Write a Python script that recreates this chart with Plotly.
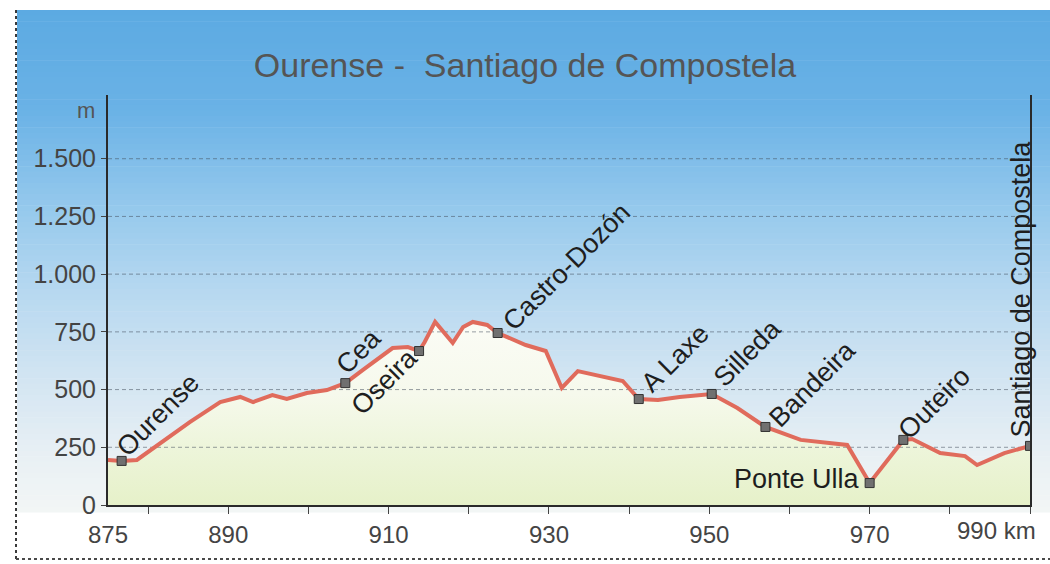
import plotly.graph_objects as go

# ---------------- data ----------------
km = [875.0, 876.7, 878.6, 881.5, 885.2, 889.0, 891.5, 893.1, 895.5, 897.3, 899.8, 902.3,
      904.6, 906.8, 910.5, 912.4, 913.8, 914.5, 915.8, 918.0, 919.3, 920.5, 922.3, 923.6,
      927.1, 929.6, 931.6, 933.6, 936.5, 939.2, 941.2, 943.6, 946.3, 950.3, 953.5, 957.0,
      961.4, 967.2, 970.0, 974.2, 975.3, 978.8, 981.9, 983.4, 986.8, 990.0]
elev = [195, 191, 195, 268, 359, 446, 468, 446, 476, 459, 485, 498,
        528, 585, 680, 684, 667, 706, 793, 702, 771, 793, 780, 745,
        693, 667, 507, 580, 559, 537, 459, 455, 468, 481, 420, 338,
        282, 260, 95, 282, 286, 225, 212, 173, 225, 256]

stations = ["Ourense", "Cea", "Oseira", "Castro-Dozón", "A Laxe", "Silleda",
            "Bandeira", "Ponte Ulla", "Outeiro", "Santiago de Compostela"]
station_km = [876.7, 904.6, 913.8, 923.6, 941.2, 950.3, 957.0, 970.0, 974.2, 990.0]
station_elev = [191, 528, 667, 745, 459, 481, 338, 95, 282, 256]

y_ticks = [0, 250, 500, 750, 1000, 1250, 1500]
y_ticktext = ["0", "250", "500", "750", "1.000", "1.250", "1.500"]
x_ticks = [875, 890, 910, 930, 950, 970]
x_ticktext = ["875", "890", "910", "930", "950", "970"]
x_last_label = "990 km"
x_minor = [880, 890, 900, 910, 920, 930, 940, 950, 960, 970, 980, 990]
title_text = "Ourense -  Santiago de Compostela"

# ---------------- layout geometry ----------------
W, H = 1050, 564
ML, MR, MT, MB = 108, 20, 95, 59
PW, PH = W - ML - MR, H - MT - MB
X_RANGE = [875, 990]
Y_RANGE = [0, 1776]
FONT = "Liberation Sans, Arial, sans-serif"


def px_x(p):
    return (p - ML) / PW


def px_y(p):
    return (H - MB - p) / PH


def lerp_color(stops, t):
    for (t0, c0), (t1, c1) in zip(stops[:-1], stops[1:]):
        if t0 <= t <= t1:
            f = (t - t0) / (t1 - t0) if t1 > t0 else 0
            return "rgb(%d,%d,%d)" % tuple(round(a + (b - a) * f) for a, b in zip(c0, c1))
    return "rgb(%d,%d,%d)" % stops[-1][1]


sky_stops = [(10, (92, 170, 226)), (110, (106, 178, 230)), (200, (146, 199, 236)),
             (290, (182, 216, 240)), (380, (211, 229, 242)), (450, (231, 239, 244)),
             (512, (243, 246, 245))]

shapes = []
top, bottom, n = 10, 512, 90
step = (bottom - top) / n
for i in range(n):
    y0 = top + i * step
    shapes.append(dict(type="rect", xref="paper", yref="paper", layer="below",
                       x0=px_x(17), x1=px_x(1050), y0=px_y(y0 + step + 0.6), y1=px_y(y0),
                       fillcolor=lerp_color(sky_stops, y0 + step / 2), line=dict(width=0)))
# scan border lines
shapes.append(dict(type="line", xref="paper", yref="paper", layer="above",
                   x0=px_x(16), x1=px_x(16), y0=px_y(10), y1=px_y(562),
                   line=dict(color="#3a3a3a", width=2, dash="dot")))
shapes.append(dict(type="line", xref="paper", yref="paper", layer="above",
                   x0=px_x(16), x1=px_x(1050), y0=px_y(559), y1=px_y(559),
                   line=dict(color="#4a4a4a", width=2, dash="dot")))

fig = go.Figure()

# filled area under profile
fig.add_trace(go.Scatter(
    x=km, y=elev, mode="lines", line=dict(width=0), fill="tozeroy",
    fillgradient=dict(type="vertical", start=0, stop=800,
                      colorscale=[[0, "#e6f1c9"], [0.3, "#edf5da"], [0.6, "#f6f9ec"], [1, "#fbfcf6"]]),
    hoverinfo="skip", showlegend=False))

# dashed gridlines (drawn over the fill, under the profile)
for v in y_ticks[1:]:
    fig.add_trace(go.Scatter(
        x=X_RANGE, y=[v, v], mode="lines",
        line=dict(color="rgba(70,80,95,0.55)", width=1, dash="4px,3px"),
        hoverinfo="skip", showlegend=False))

# profile line
fig.add_trace(go.Scatter(
    x=km, y=elev, mode="lines", line=dict(color="#e06b5c", width=4),
    hoverinfo="skip", showlegend=False))

# station markers
fig.add_trace(go.Scatter(
    x=station_km, y=station_elev, mode="markers",
    marker=dict(symbol="square", size=9, color="#707070", line=dict(color="#333", width=1)),
    hoverinfo="skip", showlegend=False))

label_style = {
    "Ourense": dict(textangle=-45, xanchor="left", yanchor="bottom", xshift=-14, yshift=-4),
    "Cea": dict(textangle=-45, xanchor="left", yanchor="bottom", xshift=-18, yshift=1),
    "Oseira": dict(textangle=-45, xanchor="right", yanchor="top", xshift=8, yshift=12),
    "Castro-Dozón": dict(textangle=-45, xanchor="left", yanchor="bottom", xshift=-4, yshift=-6),
    "A Laxe": dict(textangle=-45, xanchor="left", yanchor="bottom", xshift=-6, yshift=-2),
    "Silleda": dict(textangle=-45, xanchor="left", yanchor="bottom", xshift=-7, yshift=-1),
    "Bandeira": dict(textangle=-45, xanchor="left", yanchor="bottom", xshift=-5, yshift=-9),
    "Ponte Ulla": dict(textangle=0, xanchor="right", yanchor="middle", xshift=-8, yshift=4),
    "Outeiro": dict(textangle=-45, xanchor="left", yanchor="bottom", xshift=-14, yshift=-8),
    "Santiago de Compostela": dict(textangle=-90, xanchor="center", yanchor="bottom", xshift=-9, yshift=6),
}

annotations = []
for name, sx, sy in zip(stations, station_km, station_elev):
    annotations.append(dict(x=sx, y=sy, xref="x", yref="y", text=name, showarrow=False,
                            font=dict(family=FONT, size=27, color="#1e1e1e"),
                            **label_style[name]))

annotations.append(dict(x=px_x(97), y=px_y(110), xref="paper", yref="paper", text="m",
                        showarrow=False, xanchor="right", yanchor="middle",
                        font=dict(family=FONT, size=22, color="#555")))
annotations.append(dict(x=990, y=0, xref="x", yref="paper", text=x_last_label, showarrow=False,
                        xanchor="right", yanchor="top", xshift=8, yshift=-10,
                        font=dict(family=FONT, size=24, color="#444")))

fig.update_layout(
    width=W, height=H,
    margin=dict(l=ML, r=MR, t=MT, b=MB),
    paper_bgcolor="white", plot_bgcolor="rgba(0,0,0,0)",
    title=dict(text=title_text, x=0.5, xref="container", xanchor="center",
               y=1 - 65 / H, yref="container", yanchor="middle",
               font=dict(family=FONT, size=34, color="#555555")),
    shapes=shapes, annotations=annotations,
    xaxis=dict(range=X_RANGE, tickvals=x_ticks, ticktext=x_ticktext, ticks="",
               showgrid=False, zeroline=False, showline=True, linecolor="#2a2a2a", linewidth=2,
               ticklabelstandoff=7,
               tickfont=dict(family=FONT, size=24, color="#444"),
               minor=dict(tickvals=x_minor, ticks="outside", ticklen=7, tickcolor="#444",
                          tickwidth=1, showgrid=False)),
    yaxis=dict(range=Y_RANGE, tickvals=y_ticks, ticktext=y_ticktext, ticks="outside",
               ticklen=5, tickcolor="#444", showgrid=False, zeroline=False,
               showline=True, mirror=True, linecolor="#2a2a2a", linewidth=2,
               tickfont=dict(family=FONT, size=25, color="#444")),
)

fig.write_html("out.html", config={"displayModeBar": False},
               post_script="document.body.style.margin='0';")
